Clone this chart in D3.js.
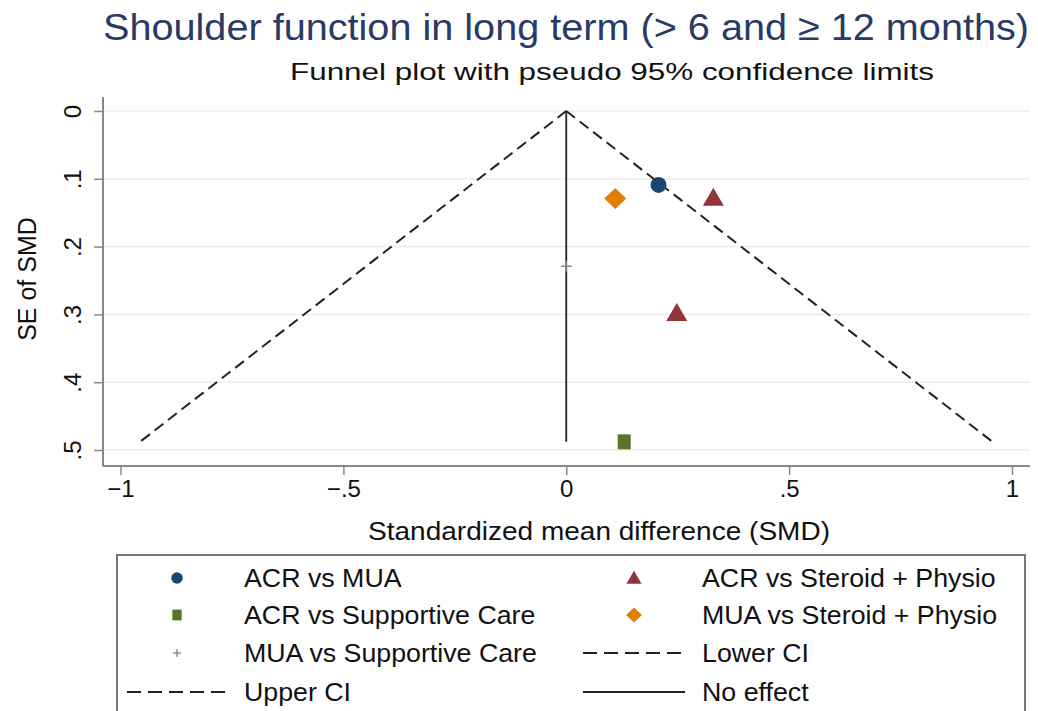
<!DOCTYPE html>
<html><head><meta charset="utf-8">
<script src="https://cdn.jsdelivr.net/npm/d3@7/dist/d3.min.js"></script>
<style>body{margin:0;background:#fff}svg{display:block;font-family:"Liberation Sans",Arial,sans-serif}</style>
</head><body><svg id="c" width="1038" height="711"></svg>
<script>
const title = "Shoulder function in long term (> 6 and \u2265 12 months)";
const subtitle = "Funnel plot with pseudo 95% confidence limits";
const xTitle = "Standardized mean difference (SMD)";
const yTitle = "SE of SMD";
const xTicks = [-1, -0.5, 0, 0.5, 1];
const xTickLabels = ["\u22121", "\u2212.5", "0", ".5", "1"];
const yTicks = [0, 0.1, 0.2, 0.3, 0.4, 0.5];
const yTickLabels = ["0", ".1", ".2", ".3", ".4", ".5"];
const groups = ["ACR vs MUA", "ACR vs Supportive Care", "MUA vs Supportive Care", "ACR vs Steroid + Physio", "MUA vs Steroid + Physio"];
const pointGroup = ["ACR vs MUA", "ACR vs Steroid + Physio", "MUA vs Steroid + Physio", "MUA vs Supportive Care", "ACR vs Steroid + Physio", "ACR vs Supportive Care"];
const pointSMD = [0.207, 0.330, 0.110, 0.000, 0.248, 0.130];
const pointSE = [0.109, 0.128, 0.129, 0.229, 0.298, 0.488];
const pooledEffect = 0;
const legendLabels = ["ACR vs MUA", "ACR vs Steroid + Physio", "ACR vs Supportive Care", "MUA vs Steroid + Physio", "MUA vs Supportive Care", "Lower CI", "Upper CI", "No effect"];

const colors = {"ACR vs MUA":"#1a476f","ACR vs Supportive Care":"#55752f","MUA vs Supportive Care":"#8a8a8a","ACR vs Steroid + Physio":"#90353b","MUA vs Steroid + Physio":"#e37e00"};

const svg = d3.select("#c");
const x = d3.scaleLinear().domain([-1, 1]).range([120.5, 1012]);
const y = d3.scaleLinear().domain([0, 0.5]).range([111, 450]);
const pLeft = 103, pRight = 1030, pBottom = 466, pTop = 97;

// title
svg.append("text").attr("x", 566).attr("y", 40).attr("text-anchor","middle")
  .attr("font-size", 37).attr("fill", "#2a3a66").attr("textLength", 926).attr("lengthAdjust","spacingAndGlyphs").text(title);
svg.append("text").attr("x", 612).attr("y", 80).attr("text-anchor","middle")
  .attr("font-size", 24).attr("fill", "#111").attr("textLength", 644).attr("lengthAdjust","spacingAndGlyphs").text(subtitle);

// grid
svg.append("g").selectAll("line").data(yTicks).join("line")
  .attr("x1", pLeft).attr("x2", pRight).attr("y1", d=>y(d)).attr("y2", d=>y(d))
  .attr("stroke", "#ececec").attr("stroke-width", 1.5);

// axes
const ax = svg.append("g").attr("transform", `translate(0,${pBottom})`)
  .call(d3.axisBottom(x).tickValues(xTicks).tickFormat((d,i)=>xTickLabels[i]).tickSize(9).tickPadding(5));
ax.select(".domain").attr("d", `M${pLeft},0H${pRight}`).attr("stroke","#888").attr("stroke-width",2);
ax.selectAll(".tick line").attr("stroke","#888").attr("stroke-width",1.5);
ax.selectAll(".tick text").attr("font-size", 24).attr("fill","#111").attr("font-family","Liberation Sans, Arial, sans-serif");

const ay = svg.append("g").attr("transform", `translate(${pLeft},0)`)
  .call(d3.axisLeft(y).tickValues(yTicks).tickFormat((d,i)=>yTickLabels[i]).tickSize(9).tickPadding(0));
ay.select(".domain").attr("d", `M0,${pTop}V${pBottom}`).attr("stroke","#888").attr("stroke-width",2);
ay.selectAll(".tick line").attr("stroke","#888").attr("stroke-width",1.5);
ay.selectAll(".tick text").attr("font-size", 24).attr("fill","#111").attr("font-family","Liberation Sans, Arial, sans-serif")
  .attr("x", 0).attr("dy", 0).attr("text-anchor","middle")
  .attr("transform", "translate(-31,0) rotate(-90)").attr("dominant-baseline","central");

svg.append("text").attr("x", 599).attr("y", 540).attr("text-anchor","middle").attr("font-size", 26).attr("fill","#111")
  .attr("textLength", 462).attr("lengthAdjust","spacingAndGlyphs").text(xTitle);
svg.append("text").attr("transform","translate(36,279) rotate(-90)").attr("text-anchor","middle").attr("font-size", 25).attr("fill","#111").text(yTitle);

// funnel
const maxSE = d3.max(pointSE);
const line = d3.line().x(d=>x(d[0])).y(d=>y(d[1]));
svg.append("path").attr("d", line([[pooledEffect,0],[pooledEffect-1.96*maxSE,maxSE]])).attr("fill","none").attr("stroke","#222").attr("stroke-width",2).attr("stroke-dasharray","11,6");
svg.append("path").attr("d", line([[pooledEffect,0],[pooledEffect+1.96*maxSE,maxSE]])).attr("fill","none").attr("stroke","#222").attr("stroke-width",2).attr("stroke-dasharray","11,6");
svg.append("path").attr("d", line([[pooledEffect,0],[pooledEffect,maxSE]])).attr("fill","none").attr("stroke","#222").attr("stroke-width",1.8);

// markers
function drawMarker(sel, g, k){
  const c = colors[g];
  if (g === "MUA vs Supportive Care") {
    const s = 5.5*k;
    sel.append("path").attr("d", `M${-s},0H${s}M0,${-s}V${s}`).attr("stroke", c).attr("stroke-width", 1.4).attr("fill","none");
  } else if (g === "ACR vs MUA") {
    sel.append("circle").attr("r", 8*k).attr("fill", c);
  } else if (g === "ACR vs Supportive Care") {
    sel.append("rect").attr("x", -6.5*k).attr("y", -7.5*k).attr("width", 13*k).attr("height", 15*k).attr("fill", c);
  } else if (g === "ACR vs Steroid + Physio") {
    sel.append("path").attr("d", `M0,${-10*k}L${10.5*k},${8*k}L${-10.5*k},${8*k}Z`).attr("fill", c);
  } else if (g === "MUA vs Steroid + Physio") {
    sel.append("path").attr("d", `M0,${-10.5*k}L${11*k},0L0,${10.5*k}L${-11*k},0Z`).attr("fill", c);
  }
}
const pts = pointSMD.map((v,i)=>({x:v, y:pointSE[i], g:pointGroup[i]}));
pts.forEach(p=>{
  const g = svg.append("g").attr("transform", `translate(${x(p.x)},${y(p.y)})`);
  drawMarker(g, p.g, 1);
});

// legend
const lg = svg.append("g");
lg.append("rect").attr("x", 117).attr("y", 555).attr("width", 908).attr("height", 200).attr("fill","none").attr("stroke","#777").attr("stroke-width",2);
const rows = [578, 615, 653, 692];
const legendItems = [
  {label: legendLabels[0], g:"ACR vs MUA", col:0, row:0},
  {label: legendLabels[1], g:"ACR vs Steroid + Physio", col:1, row:0},
  {label: legendLabels[2], g:"ACR vs Supportive Care", col:0, row:1},
  {label: legendLabels[3], g:"MUA vs Steroid + Physio", col:1, row:1},
  {label: legendLabels[4], g:"MUA vs Supportive Care", col:0, row:2},
  {label: legendLabels[5], line:"dash", col:1, row:2},
  {label: legendLabels[6], line:"dash", col:0, row:3},
  {label: legendLabels[7], line:"solid", col:1, row:3}
];
const colMarker = [177, 634], colText = [244, 702], colLine = [[127,227],[583,685]];
legendItems.forEach(it=>{
  const yy = rows[it.row];
  if (it.line) {
    const [a,b] = colLine[it.col];
    lg.append("line").attr("x1",a).attr("x2",b).attr("y1",yy).attr("y2",yy).attr("stroke","#222").attr("stroke-width",1.8)
      .attr("stroke-dasharray", it.line==="dash" ? "14,7" : null);
  } else {
    const g = lg.append("g").attr("transform", `translate(${colMarker[it.col]},${yy})`);
    drawMarker(g, it.g, 0.72);
  }
  const t = lg.append("text").attr("x", colText[it.col]).attr("y", yy).attr("dominant-baseline","central").attr("font-size", 25).attr("fill","#111").text(it.label);
  const w = t.node().getComputedTextLength();
  t.attr("textLength", w*1.07).attr("lengthAdjust","spacingAndGlyphs");
});
</script></body></html>
